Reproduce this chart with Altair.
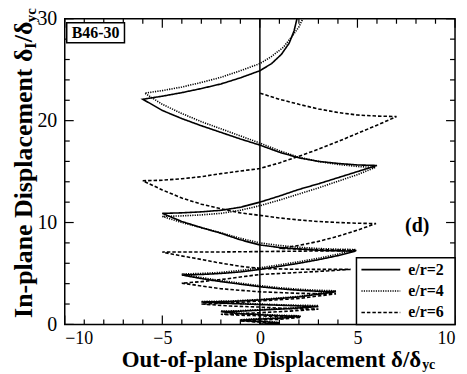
import altair as alt
import pandas as pd

# ---- data (x = out-of-plane, y = in-plane) ----
series_names = ["e/r=2", "e/r=4", "e/r=6"]

er2_points = [
    (0, 0), (0.5, 0.05), (1.0, 0.15), (0.3, 0.25), (-0.3, 0.3), (-1.0, 0.4), (-0.3, 0.5), (0.3, 0.55),
    (1.0, 0.6), (2.1, 0.8), (1.0, 0.85), (0, 0.95), (-1.0, 1.05), (-2.0, 1.25), (-1.0, 1.3), (0, 1.4),
    (1.5, 1.55), (3.0, 1.75), (1.5, 1.85), (0, 1.95), (-1.5, 2.05), (-3.0, 2.2), (-1.5, 2.25), (0, 2.4),
    (2.0, 2.7), (3.9, 3.2), (3, 3.25), (2, 3.35), (1, 3.5), (0, 3.7), (-1, 3.95), (-2, 4.2), (-3, 4.5),
    (-4, 4.85), (-3, 4.9), (-2, 5.0), (-1, 5.15), (0, 5.4), (1, 5.7), (2, 6.0), (3, 6.35), (4, 6.75),
    (4.9, 7.2), (4, 7.22), (3, 7.28), (2, 7.4), (1, 7.55), (0, 7.8), (-1, 8.3), (-2, 8.95), (-3, 9.5),
    (-4, 10.1), (-5, 10.9), (-4, 10.95), (-3, 11.05), (-2, 11.2), (-1, 11.5), (0, 12.0), (1, 12.6),
    (2, 13.25), (3, 13.8), (4, 14.4), (5, 15.0), (6, 15.6), (5, 15.65), (4, 15.8), (3, 16.0), (2, 16.35),
    (1, 16.9), (0, 17.6), (-1, 18.2), (-2, 18.85), (-3, 19.5), (-4, 20.2), (-5, 21.0), (-6, 22.1),
    (-5, 22.4), (-4, 22.75), (-3, 23.15), (-2, 23.6), (-1, 24.2), (0, 24.9), (0.6, 25.6), (1.1, 26.5),
    (1.5, 27.6), (1.75, 28.8), (1.9, 30.0),
]

er4_points = [
    (0, 0), (0.5, 0.05), (1.0, 0.2), (0.3, 0.3), (-0.3, 0.35), (-1.0, 0.45), (-0.3, 0.55), (0.3, 0.6),
    (1.0, 0.65), (2.0, 0.85), (1.0, 0.9), (0, 1.0), (-1.0, 1.1), (-2.0, 1.3), (-1.0, 1.35), (0, 1.45),
    (1.5, 1.6), (3.0, 1.85), (1.5, 1.9), (0, 2.0), (-1.5, 2.1), (-3.0, 2.25), (-1.5, 2.3), (0, 2.45),
    (2.0, 2.75), (3.9, 3.3), (3, 3.35), (2, 3.45), (1, 3.6), (0, 3.8), (-1, 4.05), (-2, 4.3), (-3, 4.6),
    (-4, 4.95), (-3, 5.0), (-2, 5.1), (-1, 5.3), (0, 5.55), (1, 5.85), (2, 6.15), (3, 6.5), (4, 6.9),
    (4.9, 7.35), (4, 7.38), (3, 7.45), (2, 7.57), (1, 7.75), (0, 8.0), (-1, 8.45), (-2, 9.0), (-3, 9.5),
    (-4, 10.0), (-5, 10.6), (-4, 10.65), (-3, 10.75), (-2, 10.9), (-1, 11.2), (0, 11.65), (1, 12.2),
    (2, 12.8), (3, 13.4), (4, 14.05), (5, 14.7), (5.9, 15.4), (5, 15.5), (4, 15.7), (3, 16.0), (2, 16.4),
    (1, 17.05), (0, 17.8), (-1, 18.5), (-2, 19.2), (-3, 19.9), (-4, 20.7), (-5, 21.6), (-5.9, 22.7),
    (-5, 22.95), (-4, 23.3), (-3, 23.75), (-2, 24.25), (-1, 24.9), (0, 25.6), (0.6, 26.3), (1.2, 27.2),
    (1.7, 28.4), (2.0, 29.2), (2.2, 30.0),
]

er6_points = [
    (0, 0), (0.5, 0.05), (1.0, 0.1), (0.3, 0.2), (-0.3, 0.25), (-1.0, 0.35), (-0.3, 0.4), (0.3, 0.45),
    (1.0, 0.5), (2.1, 0.7), (1.0, 0.75), (0, 0.85), (-1.0, 0.9), (-2.0, 1.0), (-1.0, 1.05), (0, 1.15),
    (1.5, 1.3), (3.0, 1.5), (1.5, 1.55), (0, 1.7), (-1.5, 1.8), (-3.0, 2.0), (-1.5, 2.1), (0, 2.3),
    (2.0, 2.55), (3.9, 3.0), (2.0, 3.05), (0, 3.2), (-2.0, 3.5), (-4.0, 4.05), (-3, 4.2), (-2.0, 4.4),
    (-1, 4.65), (0, 4.9), (1.5, 5.05), (3, 5.2), (4.65, 5.4), (3, 5.4), (1.5, 5.42), (0, 5.5), (-1, 5.7),
    (-2.25, 6.1), (-3.2, 6.45), (-4.1, 6.75), (-5.0, 7.1), (-2.5, 7.1), (0, 7.15), (2.5, 7.2), (5.0, 7.25),
    (3.0, 7.35), (1.0, 7.45), (2, 7.75), (3, 8.15), (4, 8.65), (5, 9.25), (5.95, 9.9), (5, 9.93), (4, 10.0),
    (3, 10.1), (2, 10.25), (1, 10.45), (0, 10.7), (-1, 10.95), (-2, 11.35), (-3, 11.8), (-4, 12.4),
    (-5, 13.2), (-6, 14.1), (-5, 14.15), (-4, 14.3), (-3, 14.5), (-2, 14.8), (-1, 15.05), (0, 15.3),
    (1, 15.85), (2, 16.5), (3, 17.2), (4, 17.95), (5, 18.75), (6, 19.55), (7, 20.4), (6, 20.45),
    (5, 20.55), (4, 20.8), (3, 21.15), (2, 21.6), (1, 22.1), (0, 22.7),
]

x_major = [-10, -5, 0, 5, 10]
x_minor = [-9, -8, -7, -6, -4, -3, -2, -1, 1, 2, 3, 4, 6, 7, 8, 9]
y_major = [0, 10, 20, 30]
y_minor = [2, 4, 6, 8, 12, 14, 16, 18, 22, 24, 26, 28]

panel_label = "B46-30"
sub_label = "(d)"
dash_styles = [[1, 0], [1.2, 1.2], [3.5, 2]]

# ---- build table ----
rows = []
for name, pts in zip(series_names, [er2_points, er4_points, er6_points]):
    for i, (xv, yv) in enumerate(pts):
        rows.append({"series": name, "i": i, "x": xv, "y": yv})
df = pd.DataFrame(rows)

W, H = 392, 307
FONT = "Liberation Serif"

xscale = alt.Scale(domain=[-10, 10], nice=False, zero=False)
yscale = alt.Scale(domain=[0, 30], nice=False, zero=False)
dash_scale = alt.Scale(domain=series_names, range=dash_styles)
xaxis = alt.Axis(values=x_major, title=None, ticks=False, domain=False, grid=False,
                 labelFont=FONT, labelFontSize=18, labelPadding=5, labelColor="black")
yaxis = alt.Axis(values=y_major, title=None, ticks=False, domain=False, grid=False,
                 labelFont=FONT, labelFontSize=20, labelPadding=8, labelColor="black")


def X(field="x"):
    return alt.X(field, type="quantitative", scale=xscale, axis=xaxis)


def Y(field="y"):
    return alt.Y(field, type="quantitative", scale=yscale, axis=yaxis)


lines = alt.Chart(df).mark_line(color="black", strokeWidth=1.6, clip=True).encode(
    x=X(), y=Y(),
    order="i:Q",
    strokeDash=alt.StrokeDash("series:N", scale=dash_scale, legend=None),
)

zero_line = alt.Chart(pd.DataFrame({"x": [0]})).mark_rule(color="black", strokeWidth=1.5).encode(
    x=X(), y=alt.value(0), y2=alt.value(H)
)


def xticks(vals, length):
    d = pd.DataFrame({"x": vals})
    b = alt.Chart(d).mark_rule(color="black", strokeWidth=1.2).encode(x=X(), y=alt.value(H), y2=alt.value(H - length))
    t = alt.Chart(d).mark_rule(color="black", strokeWidth=1.2).encode(x=X(), y=alt.value(0), y2=alt.value(length))
    return [b, t]


def yticks(vals, length):
    d = pd.DataFrame({"y": vals})
    l = alt.Chart(d).mark_rule(color="black", strokeWidth=1.2).encode(y=Y(), x=alt.value(0), x2=alt.value(length))
    r = alt.Chart(d).mark_rule(color="black", strokeWidth=1.2).encode(y=Y(), x=alt.value(W), x2=alt.value(W - length))
    return [l, r]


ticks = xticks(x_major, 9) + xticks(x_minor, 5) + yticks(y_major, 9) + yticks(y_minor, 5)


def txt(t, x, y, size, align="left", baseline="alphabetic", angle=0, weight="bold"):
    kw = dict(font=FONT, fontSize=size, fontWeight=weight, align=align, baseline=baseline, color="black")
    if angle:
        kw["angle"] = angle
    return alt.Chart(pd.DataFrame({"t": [t]})).mark_text(**kw).encode(
        text="t:N", x=alt.value(x), y=alt.value(y))


label_box = alt.Chart(pd.DataFrame({"t": [panel_label]})).mark_rect(
    fill="white", stroke="black", strokeWidth=1.5).encode(
    x=alt.value(2), x2=alt.value(60), y=alt.value(4), y2=alt.value(24))

# hand-placed legend box (as in the reference)
legend_box = alt.Chart(pd.DataFrame({"t": ["legend"]})).mark_rect(
    fill="white", stroke="black", strokeWidth=1.5).encode(
    x=alt.value(293), x2=alt.value(W), y=alt.value(240), y2=alt.value(H))
legend_layers = []
for k, name in enumerate(series_names):
    ry = 252 + 21.5 * k
    legend_layers.append(
        alt.Chart(pd.DataFrame({"series": [name]})).mark_rule(color="black", strokeWidth=1.6).encode(
            x=alt.value(298), x2=alt.value(337), y=alt.value(ry),
            strokeDash=alt.StrokeDash("series:N", scale=dash_scale, legend=None))
    )
    legend_layers.append(txt(name, 345, ry, 16, align="left", baseline="middle"))

texts = [
    txt(panel_label, 31, 14, 16, align="center", baseline="middle"),
    txt(sub_label, 354, 208, 20, align="center", baseline="middle"),
    # x title
    txt("Out-of-plane  Displacement  δ/δ", 358, 350, 23, align="right"),
    txt("yc", 359, 352, 14, align="left"),
    # y title (rotated)
    txt("In-plane  Displacement  δ", -33, 30, 26, align="right", angle=270),
    txt("I", -29, 30, 16, align="left", angle=270),
    txt("/δ", -33, 23.5, 26, align="left", angle=270),
    txt("yc", -29, 3.5, 15, align="left", angle=270),
]

chart = alt.layer(lines, zero_line, *ticks, label_box, legend_box, *legend_layers, *texts).properties(
    width=W, height=H,
    autosize=alt.AutoSizeParams(type="none"),
    padding={"left": 57, "top": 10, "right": 4, "bottom": 49},
).configure_view(stroke="black", strokeWidth=1.5)

chart.save("out.html", embed_options={"renderer": "svg", "actions": False})
